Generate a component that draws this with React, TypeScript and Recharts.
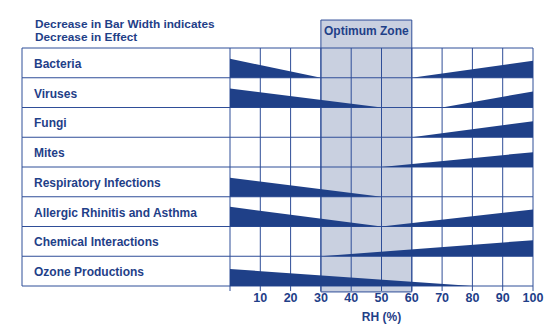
import { Area, CartesianGrid, ComposedChart, ReferenceArea, XAxis, YAxis } from "recharts";

const NAVY = "#1f4088";
const GRID = "#2f4e98";
const ZONE = "#c9d0e0";
const FONT = "'Liberation Sans', Arial, Helvetica, sans-serif";

const CHART_W = 554;
const CHART_H = 330;
const LEFT = 22;
const Y_AXIS_W = 208;
const TOP = 48;
const X_AXIS_H = 44;

const categories = [
  "Bacteria",
  "Viruses",
  "Fungi",
  "Mites",
  "Respiratory Infections",
  "Allergic Rhinitis and Asthma",
  "Chemical Interactions",
  "Ozone Productions",
];
const rhTicks = [0, 10, 20, 30, 40, 50, 60, 70, 80, 90, 100];
const optimumZone = [30, 60];

// each wedge: [rh start, width at start, rh end, width at end], width in row heights
const bacteria = [[0, 0.64, 30, 0], [60, 0, 100, 0.57]];
const viruses = [[0, 0.64, 50, 0], [70, 0, 100, 0.54]];
const fungi = [[60, 0, 100, 0.54]];
const mites = [[50, 0, 100, 0.5]];
const respiratory = [[0, 0.64, 50, 0]];
const allergic = [[0, 0.66, 50, 0], [50, 0, 100, 0.57]];
const chemical = [[30, 0, 100, 0.54]];
const ozone = [[0, 0.57, 80, 0]];

const wedgesByRow = [bacteria, viruses, fungi, mites, respiratory, allergic, chemical, ozone];

const ROW_H = (CHART_H - TOP - X_AXIS_H) / categories.length;

const series = wedgesByRow.flatMap((wedges, row) => {
  const base = categories.length - 1 - row;
  return wedges.map(([x0, w0, x1, w1], k) => ({
    key: `${row}-${k}`,
    data: [
      { rh: x0, band: [base, base + w0] },
      { rh: x1, band: [base, base + w1] },
    ],
  }));
});

function RowTick(props: any) {
  const { y, payload } = props;
  const v = payload.value as number;
  const label = v > 0 ? categories[categories.length - v] : null;
  return (
    <g>
      <line x1={LEFT} x2={LEFT + Y_AXIS_W} y1={y} y2={y} stroke={GRID} strokeWidth={1} />
      {label && <line x1={LEFT} x2={LEFT} y1={y} y2={y + ROW_H} stroke={GRID} strokeWidth={1} />}
      {label && (
        <text
          x={LEFT + 12}
          y={y + ROW_H / 2 + 1}
          dominantBaseline="central"
          fill={NAVY}
          fontSize={12}
          fontWeight="bold"
          fontFamily={FONT}
        >
          {label}
        </text>
      )}
    </g>
  );
}

export default function App() {
  return (
    <div style={{ position: "absolute", left: 0, top: 0, width: CHART_W, height: CHART_H, background: "#fff", fontFamily: FONT }}>
      <div
        style={{
          position: "absolute",
          left: 35,
          top: 18,
          fontSize: 11.8,
          lineHeight: "12.5px",
          fontWeight: "bold",
          color: NAVY,
        }}
      >
        Decrease in Bar Width indicates
        <br />
        Decrease in Effect
      </div>
      <ComposedChart
        width={CHART_W}
        height={CHART_H}
        margin={{ top: TOP, right: 21, bottom: 0, left: LEFT }}
      >
        <ReferenceArea
          x1={optimumZone[0]}
          x2={optimumZone[1]}
          y1={-0.2}
          y2={8.94}
          ifOverflow="visible"
          zIndex={-200}
          fill={ZONE}
          fillOpacity={1}
          stroke={GRID}
          strokeWidth={1}
          label={{
            value: "Optimum Zone",
            position: "insideTop",
            offset: 6,
            fill: NAVY,
            fontSize: 12,
            fontWeight: "bold",
            fontFamily: FONT,
          }}
        />
        <CartesianGrid stroke={GRID} strokeWidth={1} />
        <XAxis
          type="number"
          dataKey="rh"
          domain={[0, 100]}
          ticks={rhTicks}
          interval={0}
          height={X_AXIS_H}
          axisLine={false}
          tickLine={{ stroke: GRID }}
          tickSize={5}
          tickFormatter={(v: number) => (v === 0 ? "" : String(v))}
          tick={{ fill: NAVY, fontSize: 12.5, fontWeight: "bold", fontFamily: FONT }}
          label={{
            value: "RH (%)",
            position: "insideBottom",
            offset: 9,
            fill: NAVY,
            fontSize: 12,
            fontWeight: "bold",
            fontFamily: FONT,
          }}
        />
        <YAxis
          type="number"
          domain={[0, categories.length]}
          ticks={[0, 1, 2, 3, 4, 5, 6, 7, 8]}
          interval={0}
          width={Y_AXIS_W}
          axisLine={false}
          tickLine={false}
          tick={(p: any) => <RowTick {...p} />}
        />
        {series.map((s) => (
          <Area
            key={s.key}
            data={s.data}
            dataKey="band"
            type="linear"
            fill={NAVY}
            fillOpacity={1}
            stroke="none"
            dot={false}
            activeDot={false}
            isAnimationActive={false}
          />
        ))}
      </ComposedChart>
    </div>
  );
}
